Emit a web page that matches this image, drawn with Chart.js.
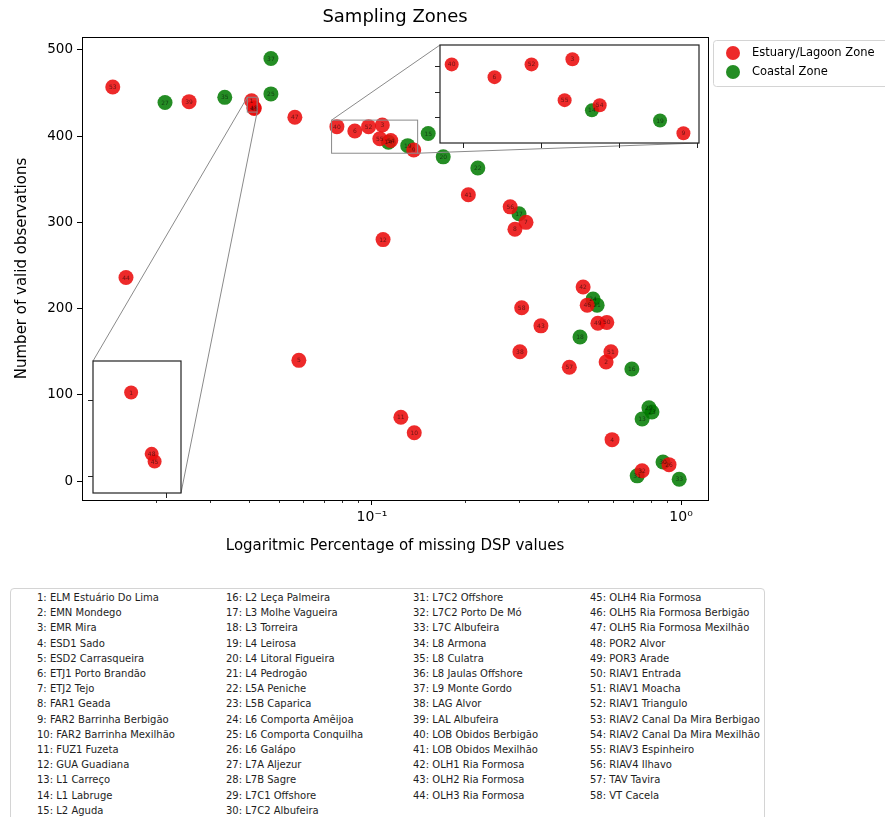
<!DOCTYPE html>
<html><head><meta charset="utf-8">
<script src="https://cdn.jsdelivr.net/npm/chart.js@4/dist/chart.umd.min.js"></script>
<style>
body{margin:0;background:#fff;width:885px;height:817px;overflow:hidden;position:relative;font-family:"DejaVu Sans",sans-serif;}
canvas{position:absolute;}
#listBox{position:absolute;left:10px;top:588px;width:755px;height:250px;border:1px solid #d4d4d4;border-radius:4px;box-sizing:border-box;}
.col{position:absolute;top:590px;font-size:10px;line-height:15.2px;color:#1e1e1e;white-space:nowrap;}
</style></head><body>
<canvas id="main" width="885" height="580" style="left:0;top:0"></canvas>
<canvas id="insetA"></canvas>
<canvas id="insetB"></canvas>
<div id="listBox"></div>
<div id="cols"></div>
<script>
// ---------- DATA ----------
const estuaryX = [0.0145,0.0256,0.0408,0.0415,0.0416,0.0563,0.0160,0.0580,0.1086,0.124,0.137,
  0.077,0.088,0.0975,0.108,0.106,0.115,0.1365,0.205,0.280,0.315,0.290,0.305,0.352,0.301,
  0.482,0.497,0.538,0.575,0.593,0.572,0.435,0.598,0.914,0.748];
const estuaryY = [457,440,441,433,432,422,236,140,280,74,56,
  411,406,411,413,397,395,384,332,318,300,292,201,180,150,
  225,204,183,184,150,138,132,48,19,12];
const estuaryIds = ["53","39","1","48","45","47","44","5","12","11","10",
  "40","6","52","3","55","54","9","41","56","7","8","58","43","38",
  "42","46","49","50","51","2","57","4","26","32"];

const coastalX = [0.0214,0.0334,0.0471,0.0471,0.113,0.1305,0.152,0.170,0.220,0.299,
  0.519,0.535,0.471,0.693,0.787,0.805,0.748,0.874,0.721,0.986];
const coastalY = [439,445,490,449,393,389,403,376,363,310,
  211,204,167,130,85,80,72,22,6,2];
const coastalIds = ["27","35","37","25","14","19","15","20","22","17",
  "24","21","18","16","29","23","13","30","31","33"];

const seriesNames = ["Estuary/Lagoon Zone","Coastal Zone"];
const xMajorTicks = [0.1, 1];
const xTickLabels = ["10\u207B\u00B9","10\u2070"];
const xMinorTicks = [0.02,0.03,0.04,0.05,0.06,0.07,0.08,0.09,0.2,0.3,0.4,0.5,0.6,0.7,0.8,0.9];
const yTicks = [0,100,200,300,400,500];

const stationNames = ["ELM Estuário Do Lima","EMN Mondego","EMR Mira","ESD1 Sado","ESD2 Carrasqueira",
 "ETJ1 Porto Brandão","ETJ2 Tejo","FAR1 Geada","FAR2 Barrinha Berbigão","FAR2 Barrinha Mexilhão",
 "FUZ1 Fuzeta","GUA Guadiana","L1 Carreço","L1 Labruge","L2 Aguda","L2 Leça Palmeira","L3 Molhe Vagueira",
 "L3 Torreira","L4 Leirosa","L4 Litoral Figueira","L4 Pedrogão","L5A Peniche","L5B Caparica",
 "L6 Comporta Amêijoa","L6 Comporta Conquilha","L6 Galápo","L7A Aljezur","L7B Sagre","L7C1 Offshore",
 "L7C2 Albufeira","L7C2 Offshore","L7C2 Porto De Mó","L7C Albufeira","L8 Armona","L8 Culatra",
 "L8 Jaulas Offshore","L9 Monte Gordo","LAG Alvor","LAL Albufeira","LOB Obidos Berbigão",
 "LOB Obidos Mexilhão","OLH1 Ria Formosa","OLH2 Ria Formosa","OLH3 Ria Formosa","OLH4 Ria Formosa",
 "OLH5 Ria Formosa Berbigão","OLH5 Ria Formosa Mexilhão","POR2 Alvor","POR3 Arade","RIAV1 Entrada",
 "RIAV1 Moacha","RIAV1 Triangulo","RIAV2 Canal Da Mira Berbigao","RIAV2 Canal Da Mira Mexilhão",
 "RIAV3 Espinheiro","RIAV4 Ilhavo","TAV Tavira","VT Cacela"];
const listColumnStarts = [1,16,31,45];

// ---------- STYLE / LAYOUT ----------
Chart.defaults.font.family = '"DejaVu Sans", sans-serif';
Chart.defaults.color = '#000';
const RED = 'rgba(235,12,12,0.88)';
const GREEN = 'rgba(0,122,0,0.86)';
const PLOT = {left:82, top:37, right:708, bottom:500};
const insetSpecs = [
  {id:'insetA', box:{l:440,t:45,r:699,b:143}, xMin:0.0740, xMax:0.1405, yMin:380.2, yMax:418.6,
   xTicks:[0.08,0.10,0.12,0.14], yTicks:[390,400,410], links:[['tl','tl'],['br','br']]},
  {id:'insetB', box:{l:93,t:361,r:181,b:493}, xMin:0.0395, xMax:0.0425, yMin:427.9, yMax:445.1,
   xTicks:[0.042], yTicks:[430,440], links:[['tl','tl'],['br','br']]}
];

function buildDatasets(r){
  return [
    {label:seriesNames[0], data:estuaryX.map((x,i)=>({x, y:estuaryY[i]})), ids:estuaryIds,
     backgroundColor:RED, borderWidth:0, pointRadius:r, pointHoverRadius:r},
    {label:seriesNames[1], data:coastalX.map((x,i)=>({x, y:coastalY[i]})), ids:coastalIds,
     backgroundColor:GREEN, borderWidth:0, pointRadius:r, pointHoverRadius:r}
  ];
}

const pointLabels = {
  id:'pointLabels',
  afterDatasetsDraw(chart){
    const ctx = chart.ctx, a = chart.chartArea;
    ctx.save();
    ctx.beginPath(); ctx.rect(a.left,a.top,a.right-a.left,a.bottom-a.top); ctx.clip();
    ctx.font = '6px "DejaVu Sans"'; ctx.fillStyle = 'rgba(0,0,0,0.55)';
    ctx.textAlign = 'center'; ctx.textBaseline = 'middle';
    chart.data.datasets.forEach((ds,i)=>{
      chart.getDatasetMeta(i).data.forEach((el,j)=>{ ctx.fillText(ds.ids[j], el.x, el.y+0.5); });
    });
    ctx.restore();
  }
};

const mainDecor = {
  id:'mainDecor',
  afterDraw(chart){
    const ctx = chart.ctx, a = chart.chartArea, xs = chart.scales.x, ys = chart.scales.y;
    ctx.save();
    // minor x ticks
    ctx.strokeStyle = '#000'; ctx.lineWidth = 0.8;
    xMinorTicks.forEach(v=>{
      const px = Math.round(xs.getPixelForValue(v))+0.5;
      ctx.beginPath(); ctx.moveTo(px,a.bottom); ctx.lineTo(px,a.bottom+3); ctx.stroke();
    });
    // frame
    ctx.lineWidth = 1; ctx.strokeStyle = '#000';
    ctx.strokeRect(Math.round(a.left)+0.5, Math.round(a.top)+0.5, Math.round(a.right-a.left), Math.round(a.bottom-a.top));
    // inset zoom rectangles + connectors
    ctx.strokeStyle = '#8a8a8a'; ctx.lineWidth = 1;
    insetSpecs.forEach(s=>{
      const l = xs.getPixelForValue(s.xMin), r = xs.getPixelForValue(s.xMax);
      const t = ys.getPixelForValue(s.yMax), b = ys.getPixelForValue(s.yMin);
      ctx.strokeRect(l, t, r-l, b-t);
      const rc = {tl:[l,t], tr:[r,t], bl:[l,b], br:[r,b]};
      const bc = {tl:[s.box.l,s.box.t], tr:[s.box.r,s.box.t], bl:[s.box.l,s.box.b], br:[s.box.r,s.box.b]};
      s.links.forEach(([c1,c2])=>{
        ctx.beginPath(); ctx.moveTo(rc[c1][0],rc[c1][1]); ctx.lineTo(bc[c2][0],bc[c2][1]); ctx.stroke();
      });
    });
    // legend
    const lx = 713, ly = 40, lw = 200, lh = 46;
    ctx.fillStyle = '#fff'; ctx.strokeStyle = '#d4d4d4';
    ctx.beginPath(); ctx.roundRect(lx+0.5, ly+0.5, lw, lh, 3); ctx.fill(); ctx.stroke();
    chart.data.datasets.forEach((ds,i)=>{
      const cy = 53 + i*19;
      ctx.fillStyle = ds.backgroundColor;
      ctx.beginPath(); ctx.arc(733, cy, 7, 0, Math.PI*2); ctx.fill();
      ctx.fillStyle = '#000'; ctx.font = '11.5px "DejaVu Sans"';
      ctx.textAlign = 'left'; ctx.textBaseline = 'middle';
      ctx.fillText(ds.label, 752, cy+0.5);
    });
    ctx.restore();
  }
};

new Chart(document.getElementById('main'), {
  type:'scatter',
  data:{datasets:buildDatasets(7.5)},
  options:{
    responsive:false, animation:false, events:[],
    layout:{autoPadding:false, padding:{left:0, right:885-PLOT.right, top:0, bottom:0}},
    plugins:{
      legend:{display:false}, tooltip:{enabled:false},
      title:{display:true, text:'Sampling Zones', fullSize:false, color:'#000',
        font:{size:18, weight:'normal', lineHeight:1.2}, padding:{top:7, bottom:8.4}}
    },
    scales:{
      x:{type:'logarithmic', min:0.01153, max:1.222,
        afterFit(s){ s.height = 580 - PLOT.bottom; },
        afterBuildTicks(s){ s.ticks = xMajorTicks.map(v=>({value:v, major:true})); },
        ticks:{autoSkip:false, maxRotation:0, padding:4, color:'#000', font:{size:14},
          callback:(v)=>{ const i = xMajorTicks.indexOf(v); return i>=0 ? xTickLabels[i] : ''; }},
        grid:{drawOnChartArea:false, drawTicks:true, tickLength:5, tickColor:'#000', tickWidth:1},
        border:{display:false},
        title:{display:true, text:'Logaritmic Percentage of missing DSP values', color:'#000',
          font:{size:15, lineHeight:1.2}, padding:{top:0, bottom:25}}
      },
      y:{type:'linear', min:-22, max:515,
        afterFit(s){ s.width = PLOT.left; },
        afterBuildTicks(s){ s.ticks = yTicks.map(v=>({value:v})); },
        ticks:{padding:4, color:'#000', font:{size:13.5}, callback:(v)=>String(v)},
        grid:{drawOnChartArea:false, drawTicks:true, tickLength:5, tickColor:'#000', tickWidth:1},
        border:{display:false},
        title:{display:true, text:'Number of valid observations', color:'#000',
          font:{size:15, lineHeight:1.2}, padding:{top:13, bottom:0}}
      }
    }
  },
  plugins:[pointLabels, mainDecor]
});

const insetFrame = {
  id:'insetFrame',
  beforeDatasetsDraw(chart){
    const ctx = chart.ctx, a = chart.chartArea;
    ctx.save(); ctx.fillStyle = '#fff'; ctx.fillRect(a.left,a.top,a.right-a.left,a.bottom-a.top); ctx.restore();
  },
  afterDraw(chart){
    const ctx = chart.ctx, a = chart.chartArea;
    ctx.save(); ctx.strokeStyle = '#222'; ctx.lineWidth = 1.2;
    ctx.strokeRect(a.left, a.top, a.right-a.left, a.bottom-a.top); ctx.restore();
  }
};

insetSpecs.forEach(s=>{
  const cv = document.getElementById(s.id);
  const TL = 5, PAD = 2;
  cv.width = (s.box.r - s.box.l) + TL + PAD;
  cv.height = (s.box.b - s.box.t) + TL + PAD;
  cv.style.left = (s.box.l - TL) + 'px';
  cv.style.top = (s.box.t - PAD) + 'px';
  new Chart(cv, {
    type:'scatter',
    data:{datasets:buildDatasets(7)},
    options:{
      responsive:false, animation:false, events:[],
      layout:{autoPadding:false, padding:{top:PAD, right:PAD, left:0, bottom:0}},
      plugins:{legend:{display:false}, tooltip:{enabled:false}, title:{display:false}},
      scales:{
        x:{type:'linear', min:s.xMin, max:s.xMax,
          afterFit(sc){ sc.height = TL; },
          afterBuildTicks(sc){ sc.ticks = s.xTicks.map(v=>({value:v})); },
          ticks:{display:false},
          grid:{drawOnChartArea:false, drawTicks:true, tickLength:TL, tickColor:'#222'},
          border:{display:false}},
        y:{type:'linear', min:s.yMin, max:s.yMax,
          afterFit(sc){ sc.width = TL; },
          afterBuildTicks(sc){ sc.ticks = s.yTicks.map(v=>({value:v})); },
          ticks:{display:false},
          grid:{drawOnChartArea:false, drawTicks:true, tickLength:TL, tickColor:'#222'},
          border:{display:false}}
      }
    },
    plugins:[insetFrame, pointLabels]
  });
});

// station list
const colX = [37,226,413,590];
const colsEl = document.getElementById('cols');
listColumnStarts.forEach((start,ci)=>{
  const end = ci+1 < listColumnStarts.length ? listColumnStarts[ci+1]-1 : stationNames.length;
  const d = document.createElement('div');
  d.className = 'col'; d.style.left = colX[ci] + 'px';
  const lines = [];
  for(let n=start;n<=end;n++) lines.push(n + ': ' + stationNames[n-1]);
  d.innerHTML = lines.map(t=>'<div>'+t+'</div>').join('');
  colsEl.appendChild(d);
});
</script>
</body></html>
